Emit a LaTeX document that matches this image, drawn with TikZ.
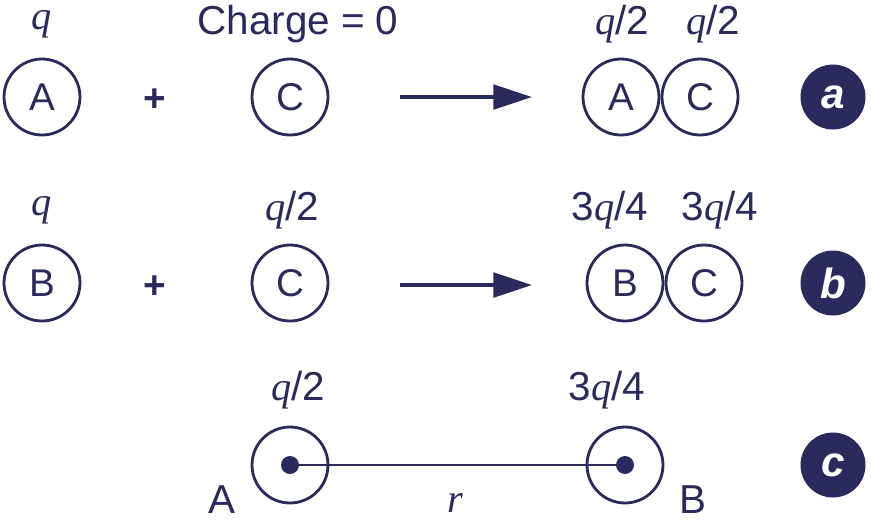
\documentclass[tikz,border=0pt]{standalone}
\usepackage{fontspec}
\setmainfont{Liberation Sans}
\newfontfamily\qfont{Liberation Serif}
\newcommand{\qq}{{\qfont\itshape q}}
\usetikzlibrary{arrows.meta,calc}
\definecolor{navy}{HTML}{2B2A5C}
\tikzset{
  ball/.style={draw=navy,line width=1.6pt,circle,minimum size=1.52cm,inner sep=0pt,text=navy,font=\fontsize{22}{26}\selectfont},
  tag/.style={circle,fill=navy,minimum size=1.3cm,inner sep=0pt,text=white,font=\fontsize{24}{28}\selectfont\itshape\bfseries},
  lbl/.style={text=navy,font=\fontsize{23}{27}\selectfont},
  plus/.style={text=navy,font=\fontsize{22}{26}\selectfont\bfseries},
  arr/.style={draw=navy,line width=2pt,-{Triangle[length=22pt,width=14pt]}}
}
\begin{document}
\begin{tikzpicture}[x=0.02cm,y=-0.02cm]
\useasboundingbox (0,0) rectangle (873,522);
% row a
\node[ball] (A1) at (42,97) {A};
\node[plus] (p1) at (155,100) {+};
\node[ball] (C1) at (290,97) {C};
\coordinate (s1) at (400,97);
\coordinate (e1) at (532,97);
\draw[arr] (s1) -- (e1);
\node[ball] (A2) at (621,97) {A};
\node[ball] (C2) at (700,97) {C};
\node[tag] (ta) at (833,97) {a};
\node[lbl] at (42,24) {\qq};
\node[lbl] at (298,24) {Charge = 0};
\node[lbl] at (622,24) {\qq/2};
\node[lbl] at (713,24) {\qq/2};
% row b
\node[ball] (B1) at (42,283) {B};
\node[plus] (p2) at (155,287) {+};
\node[ball] (C3) at (290,283) {C};
\coordinate (s2) at (400,285);
\coordinate (e2) at (532,285);
\draw[arr] (s2) -- (e2);
\node[ball] (B2) at (625,283) {B};
\node[ball] (C4) at (704,283) {C};
\node[tag] (tb) at (833,283) {b};
\node[lbl] at (42,210) {\qq};
\node[lbl] at (292,210) {\qq/2};
\node[lbl] at (610,210) {3\qq/4};
\node[lbl] at (720,210) {3\qq/4};
% row c
\node[ball] (A3) at (290,465) {};
\node[ball] (B3) at (625,465) {};
\fill[navy] (A3.center) circle (9);
\fill[navy] (B3.center) circle (9);
\draw[navy,line width=1.4pt] (A3.center) -- (B3.center);
\node[tag] (tc) at (833,465) {c};
\node[lbl] at (298,390) {\qq/2};
\node[lbl] at (607,390) {3\qq/4};
\node[lbl] at (222,500) {A};
\node[lbl] at (693,500) {B};
\node[lbl] at (455,503) {{\qfont\itshape r}};
\end{tikzpicture}
\end{document}
